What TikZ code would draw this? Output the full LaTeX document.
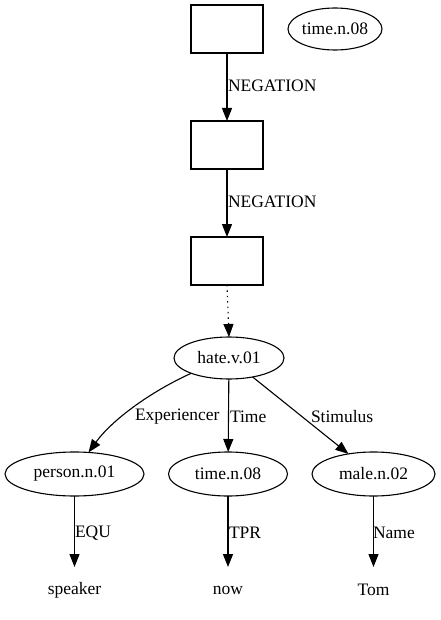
\documentclass[tikz,border=0pt]{standalone}
\usepackage{fontspec}
\setmainfont{Liberation Serif}
\usetikzlibrary{arrows.meta,shapes.geometric}
\tikzset{
  drs/.style={draw,line width=1.1pt,rectangle,minimum width=72pt,minimum height=48pt},
  ell/.style={draw,line width=1.1pt,ellipse,minimum height=44pt},
  txt/.style={minimum height=46pt},
  conn/.style={line width=1.1pt,-{Triangle[length=13pt,width=10pt]}},
  dotconn/.style={conn,dash pattern=on 1.4pt off 4pt},
  lab/.style={anchor=west}}
\begin{document}
\begin{tikzpicture}[x=1pt,y=1pt]
\useasboundingbox (0,0) rectangle (440,-620);
\begin{scope}[font=\fontsize{17.5}{21}\selectfont,every node/.style={inner sep=0pt,outer sep=0pt}]
\node[drs] (b1) at (227,-29) {};
\node[ell,minimum width=94pt,minimum height=42pt] (t0) at (335,-29) {time.n.08};
\node[drs] (b2) at (227,-145) {};
\node[drs] (b3) at (227,-261) {};
\node[ell,minimum width=110pt,minimum height=42pt] (hate) at (229,-358) {hate.v.01};
\node[ell,minimum width=139pt] (person) at (74.5,-474) {person.n.01};
\node[ell,minimum width=119pt] (time) at (228,-474) {time.n.08};
\node[ell,minimum width=123pt] (male) at (373.5,-474) {male.n.02};
\node[txt] (speaker) at (74.5,-590) {speaker};
\node[txt] (now) at (228,-590) {now};
\node[txt] (tom) at (373.5,-590) {Tom};

\node[lab] (l1) at (228,-86) {NEGATION};
\node[lab] (l2) at (228,-202) {NEGATION};
\node[lab] (l3) at (135,-417) {Experiencer};
\node[lab] (l4) at (230,-417) {Time};
\node[lab] (l5) at (311,-417) {Stimulus};
\node[lab] (l6) at (75,-533) {EQU};
\node[lab] (l7) at (229,-533) {TPR};
\node[lab] (l8) at (373,-533) {Name};
\end{scope}

\draw[conn] (b1) -- (b2);
\draw[conn] (b2) -- (b3);
\draw[dotconn] (b3.south) -- (hate.north);
\draw[conn] (hate.202) .. controls (150,-392) and (112,-420) .. (person.57);
\draw[conn] (hate) -- (time);
\draw[conn] (hate) -- (male);
\draw[conn] (person) -- (speaker);
\draw[conn] (time) -- (now);
\draw[conn] (male) -- (tom);
\end{tikzpicture}
\end{document}
